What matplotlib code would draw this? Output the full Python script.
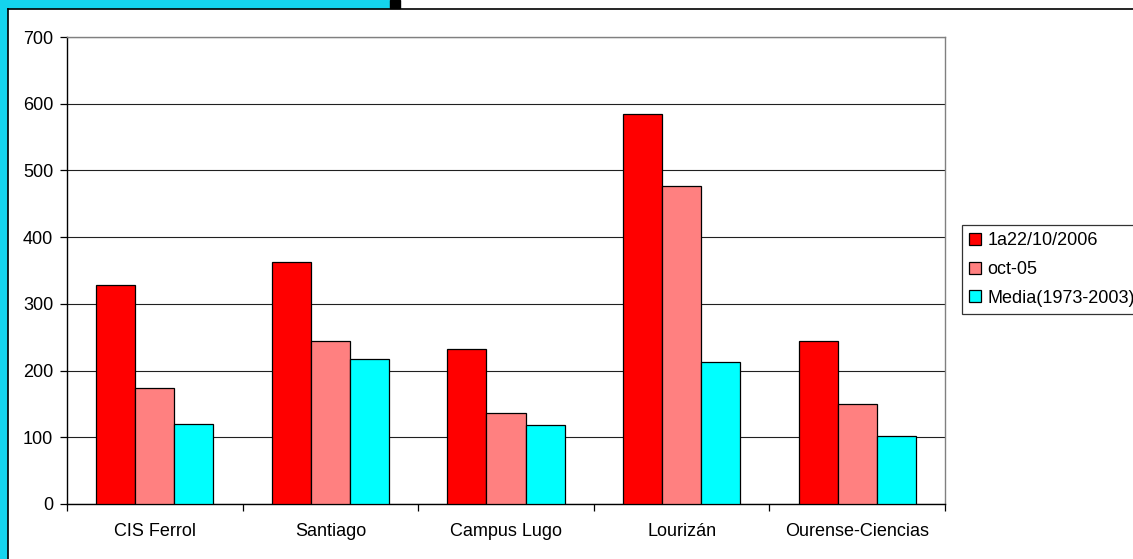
import numpy as np
import matplotlib.pyplot as plt
from matplotlib.patches import Rectangle
from matplotlib.lines import Line2D

plt.rcParams['font.family'] = ['Liberation Sans', 'DejaVu Sans']

categories = ["CIS Ferrol", "Santiago", "Campus Lugo", "Lourizán", "Ourense-Ciencias"]
series_names = ["1a22/10/2006", "oct-05", "Media(1973-2003)"]
val_2006 = [328, 363, 232, 585, 244]
val_oct05 = [174, 244, 136, 477, 150]
val_media = [120, 217, 118, 213, 102]
colors = ["#FF0000", "#FF8080", "#00FFFF"]

W, H = 1133, 559
fig = plt.figure(figsize=(W / 100, H / 100), dpi=100)

# frame decoration
fig.patches.append(Rectangle((0, 0), 7 / W, 1, transform=fig.transFigure,
                             color="#14D4EE", zorder=0))
fig.patches.append(Rectangle((0, 1 - 8 / H), 390 / W, 8 / H,
                             transform=fig.transFigure, color="#14D4EE", zorder=0))
fig.patches.append(Rectangle((390 / W, 1 - 8 / H), 10 / W, 8 / H,
                             transform=fig.transFigure, color="black", zorder=0))
fig.lines.append(Line2D([7.5 / W, 1], [1 - 8.5 / H, 1 - 8.5 / H],
                        transform=fig.transFigure, color="black", lw=1.2))
fig.lines.append(Line2D([7.5 / W, 7.5 / W], [0, 1 - 8.5 / H],
                        transform=fig.transFigure, color="black", lw=1.2))

ax = fig.add_axes([67 / W, 1 - 504 / H, (945 - 67) / W, (504 - 37) / H])
x = np.arange(len(categories))
w = 1 / 4.5
for i, (vals, c, name) in enumerate(zip([val_2006, val_oct05, val_media],
                                         colors, series_names)):
    ax.bar(x + (i - 1) * w, vals, width=w, color=c, edgecolor="black",
           linewidth=0.9, label=name, zorder=3)

ax.set_xlim(-0.5, len(categories) - 0.5)
ax.set_ylim(0, 700)
ax.set_yticks(range(0, 701, 100))
ax.yaxis.grid(True, color="#202020", lw=0.8)
ax.set_axisbelow(True)
ax.set_xticks(x)
ax.set_xticklabels(categories)
ax.set_xticks(np.arange(-0.5, len(categories)), minor=True)
ax.tick_params(axis="x", which="major", length=0, pad=14, labelsize=13)
ax.tick_params(axis="x", which="minor", length=5, width=0.9)
ax.tick_params(axis="y", length=5, width=0.9, pad=5, labelsize=13)
for s in ["top", "right"]:
    ax.spines[s].set_color("#808080")
    ax.spines[s].set_linewidth(1.0)
for s in ["left", "bottom"]:
    ax.spines[s].set_color("black")
    ax.spines[s].set_linewidth(1.0)

leg = fig.legend(loc="upper left", bbox_to_anchor=(962 / W, 1 - 225 / H),
                 fontsize=13, frameon=True, fancybox=False, edgecolor="black",
                 handlelength=0.65, handleheight=0.65, handletextpad=0.35,
                 borderpad=0.4, labelspacing=0.65, borderaxespad=0)
leg.get_frame().set_linewidth(0.9)

fig.savefig("out.png", dpi=100)
